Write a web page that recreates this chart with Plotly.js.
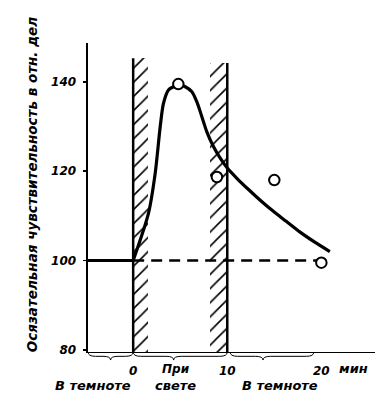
<!DOCTYPE html>
<html>
<head>
<meta charset="utf-8">
<script src="https://cdn.plot.ly/plotly-3.0.1.min.js"></script>
<style>html,body{margin:0;padding:0;background:#fff;}#chart{width:388px;height:400px;}</style>
</head>
<body>
<div id="chart"></div>
<script>
// ---- data (minutes, relative units) ----
const curveTime = [0, 1.63, 2.34, 2.87, 3.22, 3.75, 4.28, 4.81, 5.53, 6.24, 6.77, 7.3, 7.83, 8.53, 9.25, 9.96, 11.02, 12.2, 13.5, 14.9, 16.3, 17.7, 19.3, 20.9];
const curveValue = [100, 110.6, 119.5, 129.9, 135.2, 138.2, 138.9, 139.4, 138.9, 137.8, 135.5, 132.2, 128.8, 125.5, 122.9, 120.8, 118.4, 116.0, 113.5, 111.0, 108.7, 106.4, 104.1, 102.0];
const pointTime = [4.8, 8.9, 15, 20];
const pointValue = [139.5, 118.7, 118, 99.5];
const baselineValue = 100;
const baselineSolidX = [-4.8, 0];
const baselineDashX = [0, 19.5];
const lightStart = 0, lightEnd = 10;
const hatchBands = [[0, 1.6], [8.2, 10]];
const hatchTops = [145.3, 144.2];
const yTicks = [80, 100, 120, 140];
const yTickText = ["80", "100", "120", "140"];
const xTicks = [0, 10, 20];
const xTickText = ["0", "10", "20"];
const yTitle = "Осязательная чувствительность в отн. дел";

const FONT = "DejaVu Sans, sans-serif";
const yMin = 79.5, yMax = 148.7;

const traces = [];
hatchBands.forEach((b, i) => {
  traces.push({
    type: 'bar', x: [(b[0] + b[1]) / 2], y: [hatchTops[i] - yMin], base: [yMin],
    width: [b[1] - b[0]],
    marker: {color: 'rgba(255,255,255,0)', line: {width: 0},
      pattern: {shape: '/', fgcolor: 'black', bgcolor: 'rgba(255,255,255,0)', size: 10, solidity: 0.16, fgopacity: 1}},
    hoverinfo: 'skip', showlegend: false
  });
});
traces.push({type: 'scatter', mode: 'lines', x: baselineSolidX, y: [baselineValue, baselineValue],
  line: {color: 'black', width: 3}, showlegend: false, hoverinfo: 'skip'});
traces.push({type: 'scatter', mode: 'lines', x: baselineDashX, y: [baselineValue, baselineValue],
  line: {color: 'black', width: 2.5, dash: '11px,7px'}, showlegend: false, hoverinfo: 'skip'});
traces.push({type: 'scatter', mode: 'lines', x: curveTime, y: curveValue,
  line: {color: 'black', width: 3.2, shape: 'spline', smoothing: 0.8}, showlegend: false});
traces.push({type: 'scatter', mode: 'markers', x: pointTime, y: pointValue,
  marker: {size: 10.5, color: 'white', line: {color: 'black', width: 2}}, showlegend: false});

// brace helper (x in data, y in paper)
function brace(x0, x1, xm) {
  const a = 0, b = -0.014, c = -0.026, d = 0.8;
  return `M ${x0},${a} Q ${x0},${b} ${x0 + d},${b} L ${xm - d},${b} Q ${xm},${b} ${xm},${c} Q ${xm},${b} ${xm + d},${b} L ${x1 - d},${b} Q ${x1},${b} ${x1},${a}`;
}

const shapes = [
  {type: 'line', xref: 'x', yref: 'y', x0: lightStart, x1: lightStart, y0: yMin, y1: hatchTops[0], line: {color: 'black', width: 2.5}},
  {type: 'line', xref: 'x', yref: 'y', x0: lightEnd, x1: lightEnd, y0: yMin, y1: hatchTops[1], line: {color: 'black', width: 2.5}},
  {type: 'path', xref: 'x', yref: 'paper', path: brace(-4.8, 0, -2.4), line: {color: 'black', width: 1}},
  {type: 'path', xref: 'x', yref: 'paper', path: brace(0, 10, 4.3), line: {color: 'black', width: 1}},
  {type: 'path', xref: 'x', yref: 'paper', path: brace(10.3, 19.2, 13.8), line: {color: 'black', width: 1}}
];

const lblFont = {family: FONT, size: 12, color: 'black', style: 'italic', weight: 'bold'};
const lblFont2 = {family: FONT, size: 13, color: 'black', style: 'italic', weight: 'bold'};
const annotations = [
  {text: yTitle, xref: 'paper', yref: 'paper', x: -0.195, y: 0.54, textangle: -90, showarrow: false,
    font: {family: FONT, size: 13.5, color: 'black', style: 'italic', weight: 'bold'}, xanchor: 'center', yanchor: 'middle'},
  {text: 'мин', xref: 'x', yref: 'paper', x: 23.4, y: -0.055, showarrow: false, font: lblFont2, xanchor: 'center', yanchor: 'middle'},
  {text: 'При', xref: 'x', yref: 'paper', x: 4.5, y: -0.055, showarrow: false, font: lblFont, xanchor: 'center', yanchor: 'middle'},
  {text: 'свете', xref: 'x', yref: 'paper', x: 4.5, y: -0.11, showarrow: false, font: lblFont2, xanchor: 'center', yanchor: 'middle'},
  {text: 'В темноте', xref: 'x', yref: 'paper', x: 0, y: -0.11, showarrow: false, font: lblFont2, xanchor: 'right', yanchor: 'middle'},
  {text: 'В темноте', xref: 'x', yref: 'paper', x: 11.3, y: -0.11, showarrow: false, font: lblFont2, xanchor: 'left', yanchor: 'middle'}
];

const layout = {
  width: 388, height: 400,
  margin: {l: 88, r: 13, t: 43, b: 48},
  paper_bgcolor: 'white', plot_bgcolor: 'white',
  showlegend: false, barmode: 'overlay', bargap: 0,
  xaxis: {range: [-4.8, 25.7], showgrid: false, zeroline: false, showline: true, linecolor: 'black', linewidth: 1,
    tickvals: xTicks, ticktext: xTickText, ticks: '', ticklabelstandoff: 8,
    tickfont: lblFont, fixedrange: true},
  yaxis: {range: [yMin, yMax], showgrid: false, zeroline: false, showline: true, linecolor: 'black', linewidth: 2.5,
    tickvals: yTicks, ticktext: yTickText, ticks: 'outside', ticklen: 3, tickwidth: 1.5, tickcolor: 'black',
    ticklabelstandoff: 4,
    tickfont: {family: FONT, size: 12, color: 'black', style: 'italic', weight: 'bold'}, fixedrange: true},
  shapes: shapes, annotations: annotations
};

Plotly.newPlot('chart', traces, layout, {displayModeBar: false, staticPlot: true});
</script>
</body>
</html>
